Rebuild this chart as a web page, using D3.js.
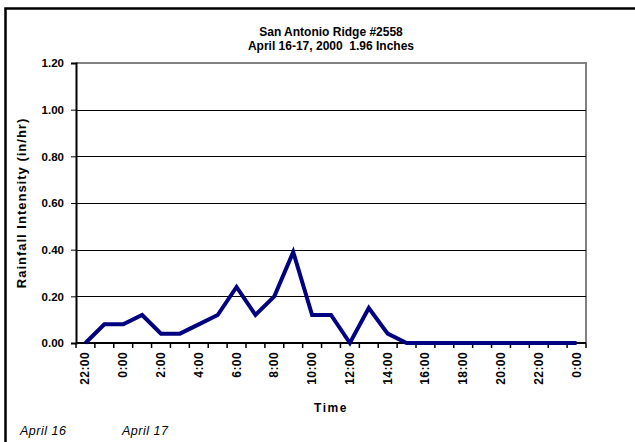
<!DOCTYPE html>
<html>
<head>
<meta charset="utf-8">
<script src="https://cdn.jsdelivr.net/npm/d3@7"></script>
<style>
  body { margin: 0; background: #fff; }
  text { font-family: "Liberation Sans", Arial, sans-serif; }
</style>
</head>
<body>
<div id="chart"></div>
<script>
// DATA
hours = ["22:00","23:00","0:00","1:00","2:00","3:00","4:00","5:00","6:00","7:00","8:00","9:00",
         "10:00","11:00","12:00","13:00","14:00","15:00","16:00","17:00","18:00","19:00","20:00",
         "21:00","22:00","23:00","0:00"];
intensity = [0.00,0.08,0.08,0.12,0.04,0.04,0.08,0.12,0.24,0.12,0.20,0.39,
             0.12,0.12,0.00,0.15,0.04,0.00,0.00,0.00,0.00,0.00,0.00,
             0.00,0.00,0.00,0.00];
yTicks = [0, 0.2, 0.4, 0.6, 0.8, 1.0, 1.2];
titleLines = ["San Antonio Ridge #2558", "April 16-17, 2000\u00a0\u00a01.96 Inches"];
dayLabels = ["April 16", "April 17"];

// CHART DETAILS
W = 635; H = 442;
margin = {top: 63, right: 49, bottom: 99, left: 76};
width = W - margin.left - margin.right;
height = H - margin.top - margin.bottom;

root = d3.select("#chart").append("svg")
    .attr("width", W)
    .attr("height", H);

// OUTER BORDER
root.append("rect")
    .attr("x", 5.5).attr("y", 8.5)
    .attr("width", W).attr("height", H)
    .attr("fill", "none")
    .attr("stroke", "black")
    .attr("stroke-width", 2.5);

svg = root.append("g")
    .attr("transform", "translate(" + margin.left + "," + margin.top + ")");

// SCALES
x = d3.scaleBand()
    .domain(d3.range(hours.length))
    .range([0, width]);
y = d3.scaleLinear()
    .domain([0, 1.2])
    .range([height, 0]);

// PLOT BORDER (grey top / right)
svg.append("path")
    .attr("d", "M0," + y(1.2) + "H" + width + "V" + height)
    .attr("fill", "none")
    .attr("stroke", "#808080")
    .attr("stroke-width", 2);

// GRIDLINES
svg.selectAll(".grid")
    .data(yTicks.filter(function(d) { return d > 0 && d < 1.2; }))
    .enter().append("line")
    .attr("x1", 0).attr("x2", width)
    .attr("y1", function(d) { return Math.round(y(d)) + 0.5; })
    .attr("y2", function(d) { return Math.round(y(d)) + 0.5; })
    .attr("stroke", "black")
    .attr("stroke-width", 1);

// Y-AXIS
yAxis = svg.append("g")
    .call(d3.axisLeft(y).tickValues(yTicks).tickFormat(d3.format(".2f")).tickSize(5).tickPadding(7));
yAxis.select(".domain").attr("stroke-width", 2);
yAxis.selectAll("text")
    .style("font-size", "11.5px").style("font-weight", "bold").attr("fill", "black");

svg.append("text")
    .text("Rainfall Intensity (in/hr)")
    .attr("transform", "translate(" + (26 - margin.left) + "," + (height / 2) + ") rotate(-90)")
    .attr("text-anchor", "middle")
    .style("letter-spacing", "1px")
    .style("font-size", "13px").style("font-weight", "bold");

// X-AXIS (ticks at category boundaries)
boundaries = d3.range(hours.length + 1).map(function(i) { return i * x.bandwidth(); });
xAxis = svg.append("g")
    .attr("transform", "translate(0," + height + ")");
xAxis.append("line")
    .attr("x1", 0).attr("x2", width)
    .attr("stroke", "black").attr("stroke-width", 2);
xAxis.selectAll(".tick")
    .data(boundaries)
    .enter().append("line")
    .attr("x1", function(d) { return d; }).attr("x2", function(d) { return d; })
    .attr("y1", 0).attr("y2", 5)
    .attr("stroke", "black").attr("stroke-width", 1.5);
xAxis.selectAll(".lbl")
    .data(hours.map(function(h, i) { return {h: h, i: i}; }).filter(function(d) { return d.i % 2 === 0; }))
    .enter().append("text")
    .text(function(d) { return d.h; })
    .attr("transform", function(d) {
        return "translate(" + (x(d.i) + x.bandwidth() / 2 + 4) + ",9) rotate(-90)";
    })
    .attr("text-anchor", "end")
    .style("letter-spacing", "0.4px")
    .style("font-size", "12px").style("font-weight", "bold");

svg.append("text")
    .text("Time")
    .attr("x", width / 2)
    .attr("y", height + 69)
    .attr("text-anchor", "middle")
    .style("letter-spacing", "1.5px")
    .style("font-size", "12px").style("font-weight", "bold");

// LINE
line = d3.line()
    .x(function(d, i) { return x(i) + x.bandwidth() / 2; })
    .y(function(d) { return y(d); });

svg.append("path")
    .datum(intensity)
    .attr("d", line)
    .attr("fill", "none")
    .attr("stroke", "#000080")
    .attr("stroke-width", 4)
    .attr("stroke-linejoin", "miter");

// TITLE
root.selectAll(".title")
    .data(titleLines)
    .enter().append("text")
    .text(function(d) { return d; })
    .attr("x", margin.left + width / 2)
    .attr("y", function(d, i) { return 36 + i * 14; })
    .attr("text-anchor", "middle")
    .style("font-size", "12px").style("font-weight", "bold");

// DAY LABELS
root.selectAll(".day")
    .data(dayLabels)
    .enter().append("text")
    .text(function(d) { return d; })
    .attr("x", function(d, i) { return 20 + i * 102; })
    .attr("y", 435)
    .style("letter-spacing", "0.5px")
    .style("font-size", "12.5px").style("font-style", "italic");
</script>
</body>
</html>
